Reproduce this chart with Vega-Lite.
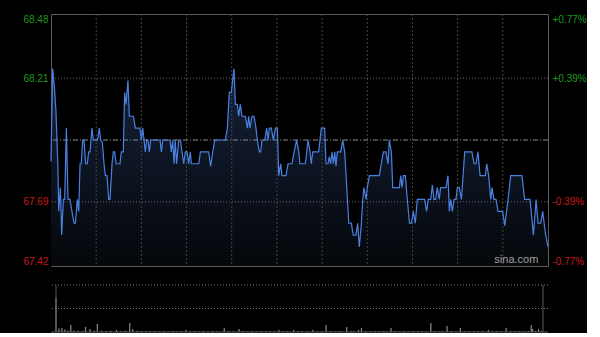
{
  "$schema": "https://vega.github.io/schema/vega-lite/v6.json",
  "background": "#000000",
  "padding": {"left": 22, "top": 13, "right": 0, "bottom": 0},
  "bounds": "flush",
  "spacing": 19,
  "config": {
    "view": {"stroke": "#5a5a5a"},
    "font": "Liberation Sans",
    "axis": {"labelFont": "Liberation Sans"}
  },
  "datasets": {
    "price": [
      {"t":0,"price":67.86},{"t":1.1,"price":68.25},{"t":2.4,"price":68.16},{"t":3.3,"price":68.07},{"t":4.6,"price":67.83},{"t":5.1,"price":67.65},{"t":6.2,"price":67.75},{"t":7.1,"price":67.55},{"t":8.2,"price":67.70},{"t":9.1,"price":67.70},{"t":10.2,"price":68.00},{"t":11.3,"price":67.70},{"t":12.6,"price":67.70},{"t":13.9,"price":67.65},{"t":15.3,"price":67.60},{"t":16.2,"price":67.60},{"t":17.5,"price":67.70},{"t":18.4,"price":67.65},{"t":19.3,"price":67.85},{"t":20.1,"price":67.85},{"t":21.0,"price":67.95},{"t":21.9,"price":67.95},{"t":23.0,"price":67.85},{"t":24.1,"price":67.85},{"t":25.0,"price":67.90},{"t":25.9,"price":67.90},{"t":27.2,"price":68.00},{"t":28.1,"price":67.95},{"t":30.8,"price":67.95},{"t":32.1,"price":68.00},{"t":33.0,"price":67.95},{"t":34.1,"price":67.94},{"t":35.2,"price":67.85},{"t":36.1,"price":67.80},{"t":37.2,"price":67.80},{"t":38.3,"price":67.70},{"t":39.2,"price":67.70},{"t":40.5,"price":67.85},{"t":41.4,"price":67.90},{"t":42.3,"price":67.90},{"t":43.2,"price":67.85},{"t":45.8,"price":67.85},{"t":46.7,"price":67.90},{"t":48.0,"price":67.90},{"t":48.9,"price":68.15},{"t":49.8,"price":68.10},{"t":51.1,"price":68.20},{"t":52.0,"price":68.05},{"t":54.7,"price":68.05},{"t":56.0,"price":68.00},{"t":59.1,"price":68.00},{"t":60.0,"price":67.95},{"t":60.9,"price":68.00},{"t":61.8,"price":67.95},{"t":62.6,"price":67.90},{"t":63.5,"price":67.95},{"t":64.4,"price":67.95},{"t":65.3,"price":67.90},{"t":66.2,"price":67.95},{"t":72.4,"price":67.95},{"t":73.3,"price":67.90},{"t":74.2,"price":67.95},{"t":79.0,"price":67.95},{"t":79.9,"price":67.90},{"t":80.8,"price":67.95},{"t":81.7,"price":67.85},{"t":82.5,"price":67.95},{"t":83.4,"price":67.85},{"t":84.8,"price":67.95},{"t":85.9,"price":67.95},{"t":87.0,"price":67.90},{"t":88.1,"price":67.85},{"t":89.2,"price":67.90},{"t":90.3,"price":67.90},{"t":91.4,"price":67.85},{"t":92.5,"price":67.90},{"t":93.2,"price":67.85},{"t":94.1,"price":67.85},{"t":98.1,"price":67.85},{"t":99.2,"price":67.90},{"t":104.7,"price":67.90},{"t":106.0,"price":67.84},{"t":107.4,"price":67.90},{"t":108.7,"price":67.95},{"t":115.8,"price":67.95},{"t":117.1,"price":68.00},{"t":118.4,"price":68.15},{"t":119.7,"price":68.15},{"t":121.5,"price":68.25},{"t":122.4,"price":68.10},{"t":123.7,"price":68.10},{"t":124.6,"price":68.05},{"t":125.7,"price":68.10},{"t":126.8,"price":68.05},{"t":129.0,"price":68.05},{"t":130.4,"price":68.00},{"t":131.3,"price":68.05},{"t":132.1,"price":68.00},{"t":133.5,"price":68.05},{"t":134.8,"price":68.05},{"t":136.1,"price":68.00},{"t":137.0,"price":67.95},{"t":138.3,"price":67.90},{"t":139.2,"price":67.90},{"t":140.1,"price":67.95},{"t":141.9,"price":67.95},{"t":143.2,"price":68.00},{"t":144.1,"price":67.95},{"t":145.0,"price":68.00},{"t":146.3,"price":68.00},{"t":147.6,"price":67.95},{"t":149.0,"price":68.00},{"t":150.3,"price":68.00},{"t":151.2,"price":67.80},{"t":152.5,"price":67.85},{"t":153.4,"price":67.80},{"t":156.0,"price":67.80},{"t":157.4,"price":67.85},{"t":160.0,"price":67.85},{"t":161.4,"price":67.90},{"t":163.1,"price":67.95},{"t":164.5,"price":67.90},{"t":165.3,"price":67.85},{"t":168.9,"price":67.85},{"t":170.7,"price":67.95},{"t":172.0,"price":67.90},{"t":172.8,"price":67.85},{"t":173.8,"price":67.90},{"t":177.7,"price":67.90},{"t":179.5,"price":68.00},{"t":181.7,"price":68.00},{"t":182.6,"price":67.85},{"t":183.9,"price":67.85},{"t":184.8,"price":67.88},{"t":185.7,"price":67.85},{"t":186.6,"price":67.90},{"t":187.5,"price":67.85},{"t":188.4,"price":67.90},{"t":189.2,"price":67.84},{"t":190.1,"price":67.90},{"t":192.4,"price":67.90},{"t":193.7,"price":67.95},{"t":195.0,"price":67.90},{"t":196.3,"price":67.76},{"t":197.7,"price":67.60},{"t":199.4,"price":67.60},{"t":200.7,"price":67.55},{"t":202.5,"price":67.55},{"t":203.6,"price":67.60},{"t":204.7,"price":67.50},{"t":206.0,"price":67.59},{"t":207.0,"price":67.70},{"t":207.8,"price":67.75},{"t":209.2,"price":67.70},{"t":210.0,"price":67.75},{"t":211.4,"price":67.80},{"t":218.0,"price":67.80},{"t":219.3,"price":67.85},{"t":220.7,"price":67.90},{"t":222.4,"price":67.90},{"t":223.8,"price":67.85},{"t":224.6,"price":67.95},{"t":226.0,"price":67.90},{"t":226.9,"price":67.75},{"t":231.3,"price":67.75},{"t":232.2,"price":67.80},{"t":233.1,"price":67.75},{"t":234.0,"price":67.80},{"t":235.3,"price":67.80},{"t":236.6,"price":67.70},{"t":238.0,"price":67.60},{"t":239.3,"price":67.60},{"t":240.6,"price":67.65},{"t":241.9,"price":67.60},{"t":243.2,"price":67.70},{"t":248.1,"price":67.70},{"t":249.4,"price":67.65},{"t":250.5,"price":67.70},{"t":252.1,"price":67.70},{"t":253.2,"price":67.76},{"t":254.3,"price":67.70},{"t":255.4,"price":67.70},{"t":256.5,"price":67.75},{"t":257.8,"price":67.70},{"t":258.7,"price":67.75},{"t":262.3,"price":67.75},{"t":263.6,"price":67.80},{"t":264.5,"price":67.65},{"t":265.4,"price":67.70},{"t":266.5,"price":67.65},{"t":267.6,"price":67.70},{"t":268.9,"price":67.70},{"t":269.8,"price":67.75},{"t":271.1,"price":67.75},{"t":272.5,"price":67.70},{"t":274.7,"price":67.90},{"t":279.5,"price":67.90},{"t":280.9,"price":67.85},{"t":282.2,"price":67.85},{"t":283.5,"price":67.90},{"t":284.9,"price":67.80},{"t":288.4,"price":67.80},{"t":289.3,"price":67.85},{"t":290.6,"price":67.80},{"t":292.0,"price":67.70},{"t":292.8,"price":67.75},{"t":294.1,"price":67.70},{"t":295.5,"price":67.70},{"t":296.8,"price":67.65},{"t":299.9,"price":67.65},{"t":301.3,"price":67.59},{"t":303.5,"price":67.70},{"t":305.2,"price":67.80},{"t":312.7,"price":67.80},{"t":314.5,"price":67.70},{"t":318.1,"price":67.70},{"t":320.3,"price":67.55},{"t":322.1,"price":67.70},{"t":323.4,"price":67.60},{"t":325.2,"price":67.60},{"t":326.5,"price":67.65},{"t":328.2,"price":67.56},{"t":330,"price":67.50}
    ],
    "vol": [
      {"t":0,"v":340},{"t":2,"v":35},{"t":4,"v":40},{"t":6,"v":25},{"t":8,"v":15},{"t":10,"v":70},{"t":12,"v":15},{"t":15,"v":12},{"t":18,"v":10},{"t":20,"v":50},{"t":23,"v":30},{"t":26,"v":12},{"t":28,"v":80},{"t":31,"v":12},{"t":34,"v":10},{"t":37,"v":12},{"t":41,"v":20},{"t":44,"v":10},{"t":47,"v":12},{"t":50,"v":90},{"t":52,"v":30},{"t":55,"v":12},{"t":58,"v":10},{"t":61,"v":10},{"t":64,"v":8},{"t":67,"v":10},{"t":70,"v":8},{"t":73,"v":10},{"t":76,"v":8},{"t":79,"v":10},{"t":82,"v":8},{"t":85,"v":10},{"t":88,"v":20},{"t":91,"v":8},{"t":94,"v":10},{"t":97,"v":8},{"t":100,"v":10},{"t":103,"v":8},{"t":106,"v":10},{"t":109,"v":8},{"t":114,"v":40},{"t":117,"v":10},{"t":120,"v":8},{"t":124,"v":30},{"t":127,"v":10},{"t":130,"v":8},{"t":133,"v":10},{"t":136,"v":8},{"t":139,"v":10},{"t":142,"v":8},{"t":145,"v":10},{"t":148,"v":8},{"t":151,"v":20},{"t":154,"v":8},{"t":157,"v":10},{"t":161,"v":20},{"t":164,"v":8},{"t":167,"v":10},{"t":170,"v":8},{"t":174,"v":20},{"t":177,"v":8},{"t":180,"v":10},{"t":183,"v":70},{"t":186,"v":10},{"t":189,"v":8},{"t":192,"v":10},{"t":194,"v":8},{"t":197,"v":50},{"t":200,"v":10},{"t":202,"v":8},{"t":205,"v":20},{"t":207,"v":40},{"t":210,"v":10},{"t":213,"v":8},{"t":216,"v":10},{"t":219,"v":8},{"t":222,"v":10},{"t":224,"v":8},{"t":227,"v":40},{"t":230,"v":10},{"t":233,"v":8},{"t":236,"v":10},{"t":239,"v":8},{"t":242,"v":10},{"t":245,"v":8},{"t":248,"v":10},{"t":251,"v":8},{"t":254,"v":90},{"t":257,"v":10},{"t":260,"v":8},{"t":262,"v":10},{"t":265,"v":60},{"t":268,"v":10},{"t":271,"v":8},{"t":274,"v":40},{"t":277,"v":10},{"t":280,"v":8},{"t":283,"v":10},{"t":286,"v":8},{"t":289,"v":10},{"t":293,"v":20},{"t":296,"v":8},{"t":299,"v":10},{"t":302,"v":8},{"t":305,"v":40},{"t":308,"v":10},{"t":311,"v":8},{"t":314,"v":10},{"t":317,"v":8},{"t":320,"v":10},{"t":322,"v":70},{"t":323,"v":30},{"t":325,"v":10},{"t":327,"v":30},{"t":329,"v":12}
    ],
    "edges": [{"t":0},{"t":330}],
    "vgrid": [{"t":30},{"t":60},{"t":90},{"t":120},{"t":150},{"t":180},{"t":210},{"t":240},{"t":270},{"t":300}],
    "hgrid": [{"price":68.21},{"price":67.69}],
    "volgrid": [{"v":235},{"v":470}],
    "one": [{"k":1}]
  },
  "vconcat": [
    {
      "width": 497,
      "height": 252,
      "layer": [
        {
          "data": {"name": "price"},
          "mark": {
            "type": "area",
            "color": {"gradient": "linear", "x1": 0, "y1": 0, "x2": 0, "y2": 1,
              "stops": [{"offset": 0, "color": "#15223b"}, {"offset": 1, "color": "#05070a"}]}
          },
          "encoding": {
            "x": {"field": "t", "type": "quantitative", "scale": {"domain": [0, 330], "nice": false, "zero": false}, "axis": null},
            "y": {"field": "price", "type": "quantitative", "scale": {"domain": [67.42, 68.48], "nice": false, "zero": false},
              "axis": {"orient": "left", "values": [67.42, 67.69, 68.21, 68.48], "format": ".2f", "labelFlush": true,
                "labelFontSize": 10, "labelPadding": 3, "ticks": false, "tickSize": 0, "domain": false, "title": null, "grid": false,
                "labelColor": {"condition": {"test": "datum.value > 67.95", "value": "#1a9a1a"}, "value": "#c81818"}}},
            "y2": {"datum": 67.42}
          }
        },
        {
          "data": {"name": "vgrid"},
          "mark": {"type": "rule", "color": "#444444", "strokeDash": [2, 2], "strokeWidth": 1},
          "encoding": {"x": {"field": "t", "type": "quantitative", "scale": {"domain": [0, 330], "nice": false, "zero": false}, "axis": null}}
        },
        {
          "data": {"name": "hgrid"},
          "mark": {"type": "rule", "color": "#666666", "strokeDash": [1, 2], "strokeWidth": 1},
          "encoding": {"y": {"field": "price", "type": "quantitative", "scale": {"domain": [67.42, 68.48], "nice": false, "zero": false}, "axis": null}}
        },
        {
          "data": {"name": "one"},
          "mark": {"type": "rule", "color": "#8a8a8a", "strokeDash": [5, 2, 1, 2], "strokeWidth": 1},
          "encoding": {"y": {"datum": 67.95, "type": "quantitative", "scale": {"domain": [67.42, 68.48], "nice": false, "zero": false}, "axis": null}}
        },
        {
          "data": {"name": "price"},
          "mark": {"type": "line", "color": "#4a80e0", "strokeWidth": 1.2},
          "encoding": {
            "x": {"field": "t", "type": "quantitative", "scale": {"domain": [0, 330], "nice": false, "zero": false}, "axis": null},
            "y": {"field": "price", "type": "quantitative", "scale": {"domain": [67.42, 68.48], "nice": false, "zero": false},
              "axis": {"orient": "right", "values": [67.42, 67.69, 68.21, 68.48], "labelFlush": true,
                "labelExpr": "datum.value > 68.4 ? '+0.77%' : datum.value > 68 ? '+0.39%' : datum.value > 67.6 ? '-0.39%' : '-0.77%'",
                "labelFontSize": 10, "labelPadding": 4, "ticks": false, "tickSize": 0, "domain": false, "title": null, "grid": false,
                "labelColor": {"condition": {"test": "datum.value > 67.95", "value": "#1a9a1a"}, "value": "#c81818"}}}
          }
        },
        {
          "data": {"name": "one"},
          "mark": {"type": "text", "text": "sina.com", "color": "#a0a0a0", "fontSize": 11, "align": "center", "baseline": "middle"},
          "encoding": {
            "x": {"datum": 309, "type": "quantitative", "scale": {"domain": [0, 330], "nice": false, "zero": false}, "axis": null},
            "y": {"datum": 67.445, "type": "quantitative", "scale": {"domain": [67.42, 68.48], "nice": false, "zero": false}, "axis": null}
          }
        }
      ],
      "resolve": {"axis": {"y": "independent"}}
    },
    {
      "width": 497,
      "height": 47,
      "view": {"stroke": null},
      "layer": [
        {
          "data": {"name": "volgrid"},
          "mark": {"type": "rule", "color": "#7a7a7a", "strokeDash": [1, 2], "strokeWidth": 1},
          "encoding": {"y": {"field": "v", "type": "quantitative", "scale": {"domain": [0, 470], "nice": false}, "axis": null}}
        },
        {
          "data": {"name": "vol"},
          "mark": {"type": "bar", "width": 1.2, "color": "#8c8c8c"},
          "encoding": {
            "x": {"field": "t", "type": "quantitative", "scale": {"domain": [0, 330], "nice": false, "zero": false}, "axis": null},
            "y": {"field": "v", "type": "quantitative", "scale": {"domain": [0, 470], "nice": false}, "axis": null}
          }
        },
        {
          "data": {"name": "edges"},
          "mark": {"type": "rule", "color": "#5a5a5a", "strokeWidth": 1},
          "encoding": {
            "x": {"field": "t", "type": "quantitative", "scale": {"domain": [0, 330], "nice": false, "zero": false}, "axis": null}
          }
        },
        {
          "data": {"name": "one"},
          "mark": {"type": "rule", "color": "#5a5a5a", "strokeWidth": 1},
          "encoding": {
            "y": {"datum": 0, "type": "quantitative", "scale": {"domain": [0, 470], "nice": false}, "axis": null}
          }
        }
      ]
    }
  ]
}
